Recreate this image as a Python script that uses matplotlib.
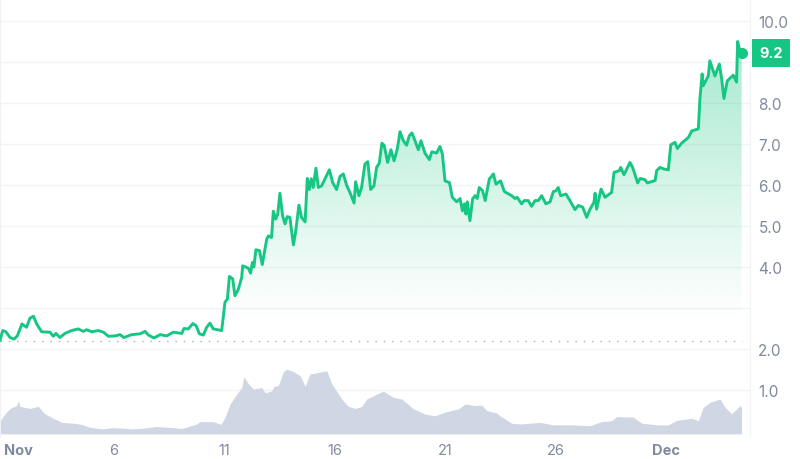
import matplotlib
matplotlib.use("Agg")
import matplotlib.pyplot as plt
import numpy as np

# -- price series (day of November, price) -- #
price_days = [0.84, 0.96, 1.10, 1.29, 1.47, 1.62, 1.83, 2.04, 2.19, 2.35, 2.50, 2.72, 3.10, 3.25, 3.37, 3.55,
              3.78, 4.08, 4.38, 4.61, 4.76, 4.99, 5.29, 5.52, 5.75, 6.05, 6.27, 6.45, 6.80, 7.18, 7.41, 7.56,
              7.81, 8.09, 8.39, 8.69, 9.07, 9.17, 9.37, 9.57, 9.72, 9.87, 10.05, 10.20, 10.35, 10.50, 10.88,
              11.03, 11.14, 11.23, 11.38, 11.48, 11.63, 11.79, 11.83, 12.09, 12.19, 12.27, 12.34, 12.43, 12.59,
              12.72, 12.92, 13.00, 13.14, 13.22, 13.33, 13.42, 13.52, 13.64, 13.75, 13.85, 13.97, 14.13, 14.23,
              14.38, 14.50, 14.66, 14.76, 14.85, 14.94, 15.03, 15.15, 15.26, 15.41, 15.56, 15.76, 15.91, 16.09,
              16.24, 16.39, 16.54, 16.72, 16.88, 16.95, 17.10, 17.22, 17.37, 17.50, 17.63, 17.78, 17.90, 18.02,
              18.14, 18.24, 18.40, 18.55, 18.69, 18.84, 18.96, 19.11, 19.26, 19.38, 19.50, 19.64, 19.79, 19.91,
              20.09, 20.29, 20.40, 20.62, 20.77, 20.88, 21.00, 21.20, 21.33, 21.53, 21.68, 21.79, 21.88, 21.95,
              22.01, 22.13, 22.25, 22.36, 22.46, 22.55, 22.70, 22.82, 23.01, 23.08, 23.19, 23.31, 23.41, 23.52,
              23.69, 24.02, 24.17, 24.27, 24.47, 24.59, 24.77, 24.92, 25.08, 25.23, 25.38, 25.57, 25.76, 25.91,
              26.03, 26.13, 26.24, 26.48, 26.66, 26.89, 27.04, 27.24, 27.42, 27.57, 27.75, 27.80, 27.87, 28.07,
              28.25, 28.55, 28.66, 28.90, 28.96, 29.11, 29.38, 29.50, 29.73, 29.84, 30.06, 30.17, 30.52, 30.59,
              30.74, 30.92, 31.12, 31.23, 31.42, 31.53, 31.72, 32.03, 32.18, 32.48, 32.55, 32.65, 32.70, 32.93,
              33.00, 33.23, 33.43, 33.53, 33.64, 33.79, 34.06, 34.21, 34.26, 34.36, 34.44]
price = [2.22, 2.45, 2.42, 2.28, 2.24, 2.32, 2.61, 2.53, 2.75, 2.80, 2.61, 2.42, 2.41, 2.31, 2.38, 2.28,
         2.38, 2.45, 2.49, 2.43, 2.47, 2.42, 2.45, 2.41, 2.31, 2.32, 2.35, 2.28, 2.35, 2.37, 2.43, 2.34,
         2.27, 2.35, 2.32, 2.41, 2.38, 2.50, 2.49, 2.62, 2.57, 2.37, 2.34, 2.53, 2.63, 2.49, 2.45,
         3.14, 3.22, 3.77, 3.71, 3.30, 3.45, 3.75, 4.03, 3.97, 3.85, 4.11, 4.00, 4.42, 4.40,
         4.06, 4.68, 4.76, 4.72, 5.36, 5.17, 5.29, 5.80, 5.25, 5.05, 5.23, 5.21, 4.54, 4.85,
         5.51, 5.21, 5.10, 6.16, 5.89, 6.15, 5.94, 6.41, 5.94, 5.98, 6.15, 6.37, 6.06, 5.89,
         6.21, 6.27, 6.00, 5.78, 5.56, 6.08, 5.74, 5.94, 6.51, 6.57, 5.89, 5.98, 6.43, 6.53,
         7.02, 6.97, 6.55, 6.86, 6.59, 6.88, 7.30, 7.08, 6.97, 7.20, 7.27, 7.08, 6.86, 7.08,
         6.78, 6.62, 6.81, 6.78, 6.94, 6.76, 6.10, 6.06, 5.70, 5.59, 5.67, 5.37, 5.54, 5.29,
         5.59, 5.13, 5.66, 5.74, 5.67, 5.94, 5.86, 5.62, 6.15, 6.19, 6.27, 6.02, 6.06, 6.10,
         5.84, 5.74, 5.67, 5.70, 5.54, 5.62, 5.62, 5.48, 5.62, 5.62, 5.74, 5.54, 5.59, 5.84,
         5.86, 5.94, 5.74, 5.78, 5.62, 5.40, 5.50, 5.46, 5.21, 5.41, 5.58, 5.80, 5.41, 5.90,
         5.70, 5.82, 6.31, 6.35, 6.43, 6.25, 6.55, 6.43, 6.05, 6.16, 6.13, 6.05, 6.11, 6.35,
         6.43, 6.39, 6.37, 6.98, 7.04, 6.89, 7.02, 7.16, 7.32, 7.37, 8.10, 8.71, 8.42, 8.66,
         9.03, 8.66, 8.95, 8.62, 8.11, 8.54, 8.68, 8.51, 9.50, 9.27, 9.22]

# -- volume series, drawn on the same y axis -- #
volume_days = [0.84, 1.06, 1.29, 1.59, 1.67, 1.74, 2.19, 2.57, 2.87, 3.25, 3.63, 4.16, 4.54, 4.91, 5.52, 5.90,
               6.42, 6.80, 7.33, 7.93, 8.69, 9.07, 9.75, 9.90, 10.50, 10.84, 11.03, 11.26, 11.56, 11.79, 11.89,
               12.09, 12.32, 12.69, 12.85, 13.15, 13.25, 13.45, 13.68, 13.83, 14.13, 14.43, 14.66, 14.88, 15.26,
               15.64, 15.87, 16.32, 16.62, 16.92, 17.23, 17.45, 17.91, 18.21, 18.66, 19.04, 19.57, 20.10, 20.55,
               21.00, 21.61, 21.91, 22.36, 22.66, 22.89, 23.34, 23.49, 24.02, 24.40, 25.30, 25.91, 26.74, 27.57,
               28.10, 28.55, 28.78, 29.53, 29.91, 30.59, 31.12, 31.50, 32.18, 32.48, 32.70, 33.01, 33.46, 33.69,
               33.99, 34.37, 34.44]
volume = [0.25, 0.42, 0.55, 0.62, 0.74, 0.60, 0.55, 0.60, 0.42, 0.31, 0.21, 0.19, 0.16, 0.09, 0.05, 0.08,
          0.07, 0.05, 0.07, 0.11, 0.08, 0.06, 0.17, 0.23, 0.23, 0.16, 0.33, 0.66, 0.90, 1.06, 1.33,
          1.15, 1.02, 1.06, 0.93, 0.98, 1.09, 1.11, 1.45, 1.51, 1.45, 1.35, 1.09, 1.39, 1.43,
          1.47, 1.15, 0.78, 0.60, 0.55, 0.60, 0.78, 0.90, 0.97, 0.82, 0.78, 0.54, 0.41, 0.37,
          0.46, 0.54, 0.66, 0.62, 0.63, 0.50, 0.44, 0.37, 0.19, 0.17, 0.21, 0.15, 0.15, 0.13,
          0.23, 0.25, 0.35, 0.34, 0.19, 0.15, 0.15, 0.26, 0.31, 0.25, 0.58, 0.70, 0.78, 0.58,
          0.42, 0.62, 0.58]

x_ticks = [1, 6, 11, 16, 21, 26, 31]
x_labels = ["Nov", "6", "11", "16", "21", "26", "Dec"]
y_ticks = [1, 2, 3, 4, 5, 6, 7, 8, 9, 10]
y_labels = ["1.0", "2.0", "", "4.0", "5.0", "6.0", "7.0", "8.0", "", "10.0"]
open_price = 2.195
last_price = 9.22

GREEN = "#16c784"
GREY = "#808a9d"
GRID = "#f1f3f6"
FONT = ["Inter", "DejaVu Sans"]

fig = plt.figure(figsize=(8, 4.6), dpi=100)
ax = fig.add_axes([0, 23 / 460, 750 / 800, 437 / 460])

x_min, x_max = 0.835, 34.82
y_min, y_max = -0.122, 10.537

# Volume #
ax.fill_between(volume_days, volume, -0.07, color="#cfd6e4", lw=0, zorder=2)

# Gradient under the price line #
fill_top = 9.5
fill_bottom = 2.73
clip = ax.fill_between(price_days, price, -0.1, color="none", lw=0)
grad = np.zeros((256, 1, 4))
grad[:, :, :3] = matplotlib.colors.to_rgb(GREEN)
grad[:, 0, 3] = np.linspace(0.38, 0.0, 256)
img = ax.imshow(grad, extent=[x_min, x_max, fill_bottom, fill_top], aspect="auto", origin="upper", zorder=1)
img.set_clip_path(clip.get_paths()[0], transform=ax.transData)
ax.set_xlim(x_min, x_max)
ax.set_ylim(y_min, y_max)

# Price line, last point and opening price #
ax.plot(price_days, price, color=GREEN, lw=2.1, solid_joinstyle="round", zorder=4)
ax.plot([price_days[-1]], [last_price], "o", color=GREEN, ms=8, mew=0, zorder=5)
ax.plot([x_min, price_days[-1]], [open_price, open_price], color="#a6b0c3", lw=1,
        linestyle=(0, (1, 5)), zorder=3)

# Axes #
ax.yaxis.tick_right()
ax.set_yticks(y_ticks)
ax.set_yticklabels(y_labels, fontsize=11, color=GREY, family=FONT)
ax.set_xticks(x_ticks)
ax.set_xticklabels(x_labels, fontsize=10.5, color=GREY, family=FONT)
ax.tick_params(axis="both", length=0)
ax.tick_params(axis="y", pad=6)
ax.tick_params(axis="x", pad=5)
ax.grid(axis="y", color=GRID, lw=1)
ax.set_axisbelow(True)
for lab in ax.get_xticklabels():
    if lab.get_text() in ("Nov", "Dec"):
        lab.set_fontweight("bold")
ax.get_xticklabels()[0].set_ha("left")
ax.get_xticklabels()[0].set_x(0.9)

for side in ("top", "bottom"):
    ax.spines[side].set_visible(False)
ax.spines["right"].set_color(GRID)
ax.spines["left"].set_color("#eef1f5")

# Current price badge #
ax.annotate("9.2", xy=(1, last_price), xycoords=ax.get_yaxis_transform(), xytext=(21, 0),
            textcoords="offset pixels", ha="center", va="center", color="white", fontsize=10.5,
            fontweight="bold", family=FONT, annotation_clip=False,
            bbox=dict(boxstyle="square,pad=0.5", fc=GREEN, ec="none"), zorder=6)

fig.savefig("out.png", dpi=100)
